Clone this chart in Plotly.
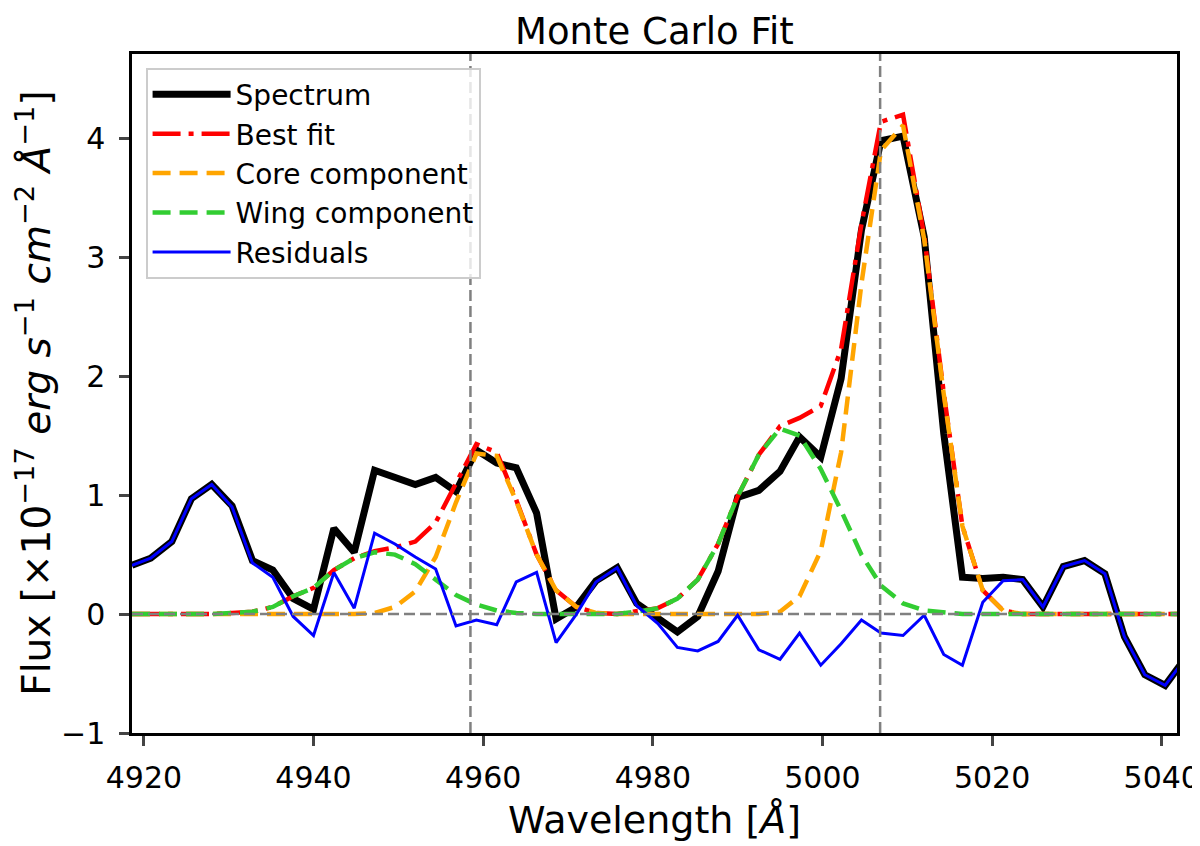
import plotly.graph_objects as go

# wavelength grid (Angstrom)
wave = [4918.6, 4920.8, 4923.3, 4925.6, 4928.0, 4930.4, 4932.8, 4935.2, 4937.6, 4940.0,
        4942.4, 4944.8, 4947.2, 4949.6, 4952.0, 4954.4, 4956.8, 4959.2, 4961.6, 4963.9,
        4966.3, 4968.6, 4971.0, 4973.3, 4975.8, 4978.1, 4980.6, 4982.9, 4985.3, 4987.7,
        4990.0, 4992.5, 4995.0, 4997.3, 4999.8, 5002.2, 5004.6, 5006.9, 5009.5, 5012.0,
        5014.3, 5016.5, 5018.9, 5021.3, 5023.6, 5026.0, 5028.4, 5030.9, 5033.3, 5035.6,
        5038.0, 5040.4, 5042.8]

spectrum = [0.41, 0.47, 0.61, 0.97, 1.09, 0.91, 0.45, 0.37, 0.13, 0.04,
            0.72, 0.52, 1.21, 1.15, 1.09, 1.15, 1.03, 1.38, 1.27, 1.23,
            0.85, -0.04, 0.06, 0.28, 0.39, 0.09, -0.03, -0.15, -0.02, 0.36,
            0.98, 1.04, 1.20, 1.49, 1.32, 1.98, 3.23, 3.98, 4.02, 3.17,
            1.52, 0.31, 0.30, 0.31, 0.29, 0.06, 0.40, 0.45, 0.34, -0.19,
            -0.51, -0.60, -0.37]

best_fit = [0.0, 0.0, 0.0, 0.0, 0.0, 0.01, 0.02, 0.06, 0.15, 0.22,
            0.37, 0.47, 0.53, 0.56, 0.61, 0.77, 1.10, 1.43, 1.36, 0.96,
            0.50, 0.20, 0.06, 0.01, 0.0, 0.02, 0.05, 0.13, 0.29, 0.59,
            0.99, 1.34, 1.58, 1.65, 1.75, 2.23, 3.28, 4.14, 4.20, 3.18,
            1.86, 0.74, 0.20, 0.03, 0.0, 0.0, 0.0, 0.0, 0.0, 0.0,
            0.0, 0.0, 0.0]

core = [0.0, 0.0, 0.0, 0.0, 0.0, 0.0, 0.0, 0.0, 0.0, 0.0,
        0.0, 0.0, 0.01, 0.06, 0.19, 0.48, 0.94, 1.35, 1.33, 0.95,
        0.50, 0.20, 0.06, 0.01, 0.0, 0.0, 0.0, 0.0, 0.0, 0.0,
        0.0, 0.0, 0.02, 0.15, 0.53, 1.36, 2.78, 3.90, 4.11, 3.15,
        1.85, 0.74, 0.20, 0.03, 0.0, 0.0, 0.0, 0.0, 0.0, 0.0,
        0.0, 0.0, 0.0]

wing = [0.0, 0.0, 0.0, 0.0, 0.0, 0.01, 0.02, 0.06, 0.15, 0.22,
        0.37, 0.47, 0.52, 0.50, 0.42, 0.29, 0.16, 0.08, 0.03, 0.01,
        0.0, 0.0, 0.0, 0.0, 0.0, 0.02, 0.05, 0.13, 0.29, 0.59,
        0.99, 1.34, 1.56, 1.50, 1.22, 0.87, 0.50, 0.24, 0.09, 0.03,
        0.01, 0.0, 0.0, 0.0, 0.0, 0.0, 0.0, 0.0, 0.0, 0.0,
        0.0, 0.0, 0.0]

residuals = [0.41, 0.47, 0.61, 0.97, 1.09, 0.90, 0.43, 0.31, -0.02, -0.18,
             0.35, 0.05, 0.68, 0.59, 0.48, 0.38, -0.10, -0.05, -0.09, 0.27,
             0.35, -0.24, 0.0, 0.27, 0.39, 0.07, -0.08, -0.28, -0.31, -0.23,
             -0.01, -0.30, -0.38, -0.16, -0.43, -0.25, -0.05, -0.16, -0.18, -0.01,
             -0.34, -0.43, 0.10, 0.28, 0.29, 0.06, 0.40, 0.45, 0.34, -0.19,
             -0.51, -0.60, -0.37]

line_centres = [4958.5, 5006.8]
x_ticks = [4920, 4940, 4960, 4980, 5000, 5020, 5040]
y_ticks = [-1, 0, 1, 2, 3, 4]

FONT = "DejaVu Sans"
GREY_DASH = dict(color="gray", width=2.5, dash="11px,5px")

fig = go.Figure()
fig.add_trace(go.Scatter(x=wave, y=spectrum, mode="lines", name="Spectrum", legendgroup="a",
                         line=dict(color="black", width=7)))
fig.add_trace(go.Scatter(x=wave, y=best_fit, mode="lines", name="Best fit", legendgroup="b",
                         line=dict(color="red", width=4.5, dash="28px,8px,5px,8px")))
fig.add_trace(go.Scatter(x=wave, y=core, mode="lines", name="Core component", legendgroup="c",
                         line=dict(color="orange", width=4.5, dash="18px,9px")))
fig.add_trace(go.Scatter(x=wave, y=wing, mode="lines", name="Wing component", legendgroup="d",
                         line=dict(color="limegreen", width=4.5, dash="18px,9px")))
fig.add_trace(go.Scatter(x=wave, y=residuals, mode="lines", name="Residuals", legendgroup="e",
                         line=dict(color="blue", width=3)))

# reference lines at the line centres and at zero
for c in line_centres:
    fig.add_shape(type="line", xref="x", yref="paper", x0=c, x1=c, y0=0, y1=1,
                  line=GREY_DASH, layer="above")
fig.add_shape(type="line", xref="paper", yref="y", x0=0, x1=1, y0=0, y1=0,
              line=GREY_DASH, layer="above")

# title and axis titles as annotations so they sit where the reference has them
fig.add_annotation(text="Monte Carlo Fit", xref="paper", yref="paper",
                   x=0.5, y=1.0677, xanchor="center", yanchor="top",
                   showarrow=False, font=dict(size=37, family=FONT))
fig.add_annotation(text="Wavelength [<i>Å</i>]", xref="paper", yref="paper",
                   x=0.5, y=-0.128, xanchor="center", yanchor="middle",
                   showarrow=False, font=dict(size=38, family=FONT))
fig.add_annotation(text="Flux [×10<sup>−17</sup> <i>erg</i> <i>s</i><sup>−1</sup> "
                        "<i>cm</i><sup>−2</sup> <i>Å</i><sup>−1</sup>]",
                   xref="paper", yref="paper", x=-0.0945, y=0.5, textangle=-90,
                   xanchor="center", yanchor="middle",
                   showarrow=False, font=dict(size=39, family=FONT))

# the page puts the figure 8px in from the corner, so the figure is 8px smaller
fig.update_layout(
    width=1192, height=838,
    margin=dict(l=124, r=23, t=46, b=113, autoexpand=False),
    paper_bgcolor="white", plot_bgcolor="white",
    font=dict(family=FONT, color="black"),
    legend=dict(x=0.013, y=0.98, xanchor="left", yanchor="top",
                bgcolor="rgba(255,255,255,0.8)", bordercolor="#cccccc", borderwidth=2,
                font=dict(size=28, family=FONT), itemwidth=78, tracegroupgap=7,
                traceorder="normal"),
    showlegend=True,
)
fig.update_xaxes(range=[4918.6, 5041.8], tickvals=x_ticks, ticks="outside", ticklen=10,
                 tickwidth=2.5, showline=True, linecolor="black", linewidth=2.5, mirror=True,
                 showgrid=False, zeroline=False, tickfont=dict(size=30),
                 ticklabelstandoff=6, automargin=False)
fig.update_yaxes(range=[-1, 4.71], tickvals=y_ticks, ticks="outside", ticklen=10,
                 tickwidth=2.5, showline=True, linecolor="black", linewidth=2.5, mirror=True,
                 showgrid=False, zeroline=False, tickfont=dict(size=30),
                 ticklabelstandoff=8, automargin=False)

fig.write_html("out.html")
